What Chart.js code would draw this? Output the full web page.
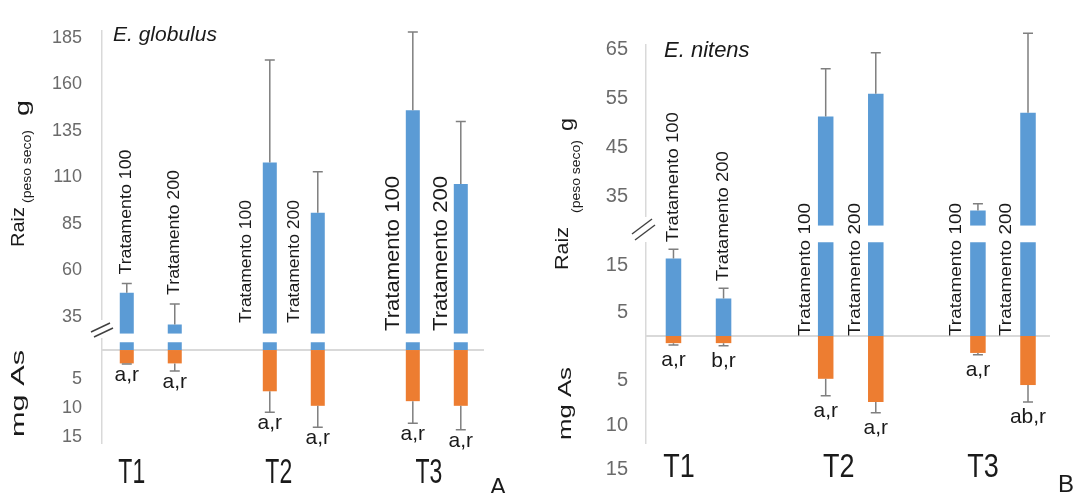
<!DOCTYPE html>
<html>
<head>
<meta charset="utf-8">
<script src="https://cdn.jsdelivr.net/npm/chart.js@4.4.1/dist/chart.umd.min.js"></script>
<style>
  html, body { margin: 0; padding: 0; background: #fff; }
  #wrap { position: relative; width: 1075px; height: 493px; overflow: hidden; }
  .panel { position: absolute; top: 0; height: 493px; }
  #panelA { left: 0; width: 537px; }
  #panelB { left: 537px; width: 538px; }
</style>
</head>
<body>
<div id="wrap">
  <div class="panel" id="panelA"><canvas id="chartA"></canvas></div>
  <div class="panel" id="panelB"><canvas id="chartB"></canvas></div>
</div>
<script>
// categories
const groups = ['T1', 'T2', 'T3'];
const treatments = ['Tratamento 100', 'Tratamento 200'];

// A - E. globulus : root dry weight (g) and As (mg)
const raiz100A = [48, 118, 146];
const raizErr100A = [5, 55, 42];
const raiz200A = [31, 91, 106.5];
const raizErr200A = [11, 22, 33.5];
const as100A = [2.3, 7.1, 8.8];
const asErr100A = [0.1, 3.6, 3.8];
const as200A = [2.3, 9.6, 9.6];
const asErr200A = [1.3, 3.7, 4.1];
const letters100A = ['a,r', 'a,r', 'a,r'];
const letters200A = ['a,r', 'a,r', 'a,r'];
const raizTicksA = [35, 60, 85, 110, 135, 160, 185];
const asTicksA = [5, 10, 15];

// B - E. nitens
const raiz100B = [16.5, 51.3, 32];
const raizErr100B = [2, 9.8, 1.4];
const raiz200B = [8, 56, 52.1];
const raizErr200B = [2.2, 8.4, 16.3];
const as100B = [0.8, 4.8, 1.9];
const asErr100B = [0.2, 1.9, 0.2];
const as200B = [0.8, 7.4, 5.5];
const asErr200B = [0.3, 1.2, 1.9];
const letters100B = ['a,r', 'a,r', 'a,r'];
const letters200B = ['b,r', 'a,r', 'ab,r'];
const raizTicksB = [35, 45, 55, 65];
const lowTicksB = [5, 15];
const asTicksB = [5, 10, 15];

const BLUE = '#5b9bd5';
const ORANGE = '#ed7d31';
const AXIS = '#d9d9d9';
const WHISKER = '#7f7f7f';
const INK = '#1a1a1a';
const TICK = '#6b6b6b';
const FONT = 'Arial, "Liberation Sans", sans-serif';

function fontStr(size, style) {
  return (style ? style + ' ' : '') + size + 'px ' + FONT;
}

// vertical text reading bottom -> top, stretched to a given length
function vText(ctx, text, size, x, yBottom, len, baseline) {
  ctx.save();
  ctx.font = fontStr(size);
  const w = ctx.measureText(text).width;
  ctx.translate(x, yBottom);
  ctx.rotate(-Math.PI / 2);
  ctx.scale(len / w, 1);
  ctx.fillStyle = INK;
  ctx.textAlign = 'left';
  ctx.textBaseline = baseline;
  ctx.fillText(text, 0, 0);
  ctx.restore();
}

function whisker(ctx, x, from, to) {
  ctx.save();
  ctx.strokeStyle = WHISKER;
  ctx.lineWidth = 1.5;
  ctx.beginPath();
  ctx.moveTo(x, from);
  ctx.lineTo(x, to);
  ctx.moveTo(x - 5, to);
  ctx.lineTo(x + 5, to);
  ctx.stroke();
  ctx.restore();
}

function decoPlugin(p) {
  return {
    id: 'deco',
    beforeDatasetsDraw(chart) {
      const {ctx, chartArea: a, scales} = chart;
      const y0 = scales.yMg.getPixelForValue(0);
      ctx.save();
      ctx.strokeStyle = AXIS;
      ctx.lineWidth = 2;
      ctx.beginPath();
      ctx.moveTo(a.left, y0);
      ctx.lineTo(a.right, y0);
      ctx.stroke();
      ctx.restore();
    },
    afterDatasetsDraw(chart) {
      const {ctx, scales} = chart;
      const series = [
        {raiz: p.raiz100, raizErr: p.raizErr100, as: p.as100, asErr: p.asErr100, letters: p.letters100, meta: 2, name: treatments[0]},
        {raiz: p.raiz200, raizErr: p.raizErr200, as: p.as200, asErr: p.asErr200, letters: p.letters200, meta: 5, name: treatments[1]}
      ];
      series.forEach(s => {
        const bars = chart.getDatasetMeta(s.meta).data;
        groups.forEach((g, i) => {
          const bar = bars[i];
          const cx = bar.x;
          const half = bar.width / 2;
          const rScale = s.raiz[i] > p.highMin ? scales.yHigh : scales.yLow;
          const rTop = rScale.getPixelForValue(s.raiz[i]);
          const rErr = rScale.getPixelForValue(s.raiz[i] + s.raizErr[i]);
          const mBot = scales.yMg.getPixelForValue(s.as[i]);
          const mErr = scales.yMg.getPixelForValue(s.as[i] + s.asErr[i]);
          whisker(ctx, cx, rTop, rErr);
          whisker(ctx, cx, mBot, mErr);

          ctx.save();
          ctx.fillStyle = INK;
          ctx.font = fontStr(p.letterFont);
          ctx.textAlign = 'center';
          ctx.textBaseline = 'alphabetic';
          ctx.fillText(s.letters[i], cx, mErr + p.letterGap);
          ctx.restore();

          const lab = p.labels;
          let lx, ly;
          if (lab.mode[i] === 'above') {
            lx = cx;
            ly = rErr - lab.gap;
          } else {
            lx = cx - half - lab.offset[i];
            ly = lab.bottom[i];
          }
          vText(ctx, s.name, lab.font[i], lx, ly, lab.length[i], 'middle');
        });
      });
    },
    afterDraw(chart) {
      const {ctx, scales} = chart;
      // axis break
      const b = p.brk;
      ctx.save();
      ctx.fillStyle = '#fff';
      ctx.fillRect(b.gapX - 2, b.gapTop, 4, b.gapBottom - b.gapTop);
      ctx.strokeStyle = '#404040';
      ctx.lineWidth = 1.4;
      b.lines.forEach(l => {
        ctx.beginPath();
        ctx.moveTo(l[0], l[1]);
        ctx.lineTo(l[2], l[3]);
        ctx.stroke();
      });
      ctx.restore();

      // axis titles
      p.titles.forEach(t => vText(ctx, t.text, t.size, t.x, t.y0, t.y0 - t.y1, 'alphabetic'));

      // group labels
      groups.forEach((g, i) => {
        const x = scales.x.getPixelForValue(i + 1) + p.groupShift[i];
        ctx.save();
        ctx.font = fontStr(p.groupFont);
        ctx.fillStyle = INK;
        ctx.textAlign = 'center';
        ctx.textBaseline = 'alphabetic';
        ctx.translate(x, p.groupY);
        ctx.scale(1, p.groupStretch);
        ctx.fillText(g, 0, 0.716 * p.groupFont / 2);
        ctx.restore();
      });

      ctx.save();
      ctx.fillStyle = INK;
      ctx.font = fontStr(p.speciesFont, 'italic');
      ctx.textAlign = 'left';
      ctx.textBaseline = 'alphabetic';
      ctx.fillText(p.species, p.speciesX, p.speciesY);
      ctx.font = fontStr(24);
      ctx.fillText(p.panelLabel, p.panelX, p.panelY);
      ctx.restore();
    }
  };
}

function buildChart(canvasId, p) {
  const datasets = [];
  [[p.raiz100, p.as100, 's100'], [p.raiz200, p.as200, 's200']].forEach(([raiz, as, stack]) => {
    datasets.push({
      stack, yAxisID: 'yHigh', backgroundColor: BLUE,
      data: raiz.map((v, i) => ({x: i + 1, y: v > p.highMin ? [p.highMin, v] : null}))
    });
    datasets.push({
      stack, yAxisID: 'yLow', backgroundColor: BLUE,
      data: raiz.map((v, i) => ({x: i + 1, y: [0, Math.min(v, p.lowCap)]}))
    });
    datasets.push({
      stack, yAxisID: 'yMg', backgroundColor: ORANGE,
      data: as.map((v, i) => ({x: i + 1, y: v}))
    });
  });

  const yTicks = list => ({
    display: !!list,
    color: TICK,
    font: {size: p.tickFont, family: FONT},
    padding: p.tickPad,
    autoSkip: false
  });
  const setTicks = list => (list ? s => { s.ticks = list.map(v => ({value: v})); } : undefined);
  const fitW = s => { s.width = 50; };

  return new Chart(document.getElementById(canvasId), {
    type: 'bar',
    data: {datasets},
    options: {
      responsive: true,
      maintainAspectRatio: false,
      animation: false,
      layout: {padding: p.padding},
      categoryPercentage: p.catPct,
      barPercentage: p.barPct,
      plugins: {legend: {display: false}, tooltip: {enabled: false}},
      scales: {
        x: {
          type: 'linear', min: p.xMin, max: p.xMax, stacked: true, offset: false,
          afterBuildTicks: s => { s.ticks = groups.map((g, i) => ({value: i + 1})); },
          afterFit: s => { s.height = 50; },
          ticks: {display: false},
          grid: {display: false, drawTicks: false, offset: false},
          border: {display: false}
        },
        yHigh: {
          type: 'linear', position: 'left', stack: 'v', stackWeight: p.weights[0], weight: 3,
          min: p.highMin, max: p.highMax, stacked: false,
          afterBuildTicks: setTicks(p.highTicks), afterFit: fitW,
          ticks: yTicks(p.highTicks),
          grid: {display: false, drawTicks: false},
          border: {color: AXIS, width: 1.5}
        },
        yLow: {
          type: 'linear', position: 'left', stack: 'v', stackWeight: p.weights[1], weight: 2,
          min: 0, max: p.lowMax, stacked: false,
          afterBuildTicks: setTicks(p.lowTicks), afterFit: fitW,
          ticks: yTicks(p.lowTicks),
          grid: {display: false, drawTicks: false},
          border: {color: AXIS, width: 1.5}
        },
        yMg: {
          type: 'linear', position: 'left', stack: 'v', stackWeight: p.weights[2], weight: 1,
          min: 0, max: p.mgMax, reverse: true, stacked: false,
          afterBuildTicks: setTicks(p.mgTicks), afterFit: fitW,
          ticks: yTicks(p.mgTicks),
          grid: {display: false, drawTicks: false},
          border: {color: AXIS, width: 1.5}
        }
      }
    },
    plugins: [decoPlugin(p)]
  });
}

buildChart('chartA', {
  raiz100: raiz100A, raizErr100: raizErr100A, raiz200: raiz200A, raizErr200: raizErr200A,
  as100: as100A, asErr100: asErr100A, as200: as200A, asErr200: asErr200A,
  letters100: letters100A, letters200: letters200A,
  highMin: 26, highMax: 188.7, lowMax: 26, lowCap: 12.6, mgMax: 16,
  highTicks: raizTicksA, lowTicks: null, mgTicks: asTicksA,
  weights: [308, 16.5, 94.5],
  xMin: 0.659, xMax: 3.33, catPct: 0.671, barPct: 0.292,
  padding: {left: 52, right: 53, top: 24, bottom: 0},
  tickFont: 18, tickPad: 20,
  letterFont: 21, letterGap: 17,
  labels: {mode: ['above', 'left', 'left'], gap: 9, offset: [0, 16, 12.5], bottom: [0, 323, 331],
           font: [16, 16, 20], length: [125, 123, 155]},
  brk: {gapX: 102, gapTop: 320, gapBottom: 338, lines: [[91, 332, 110, 323], [94, 337, 113, 328]]},
  titles: [
    {text: 'Raiz', size: 19, x: 24, y0: 247, y1: 207},
    {text: '(peso seco)', size: 12, x: 31, y0: 203, y1: 130},
    {text: 'g', size: 21, x: 29, y0: 116, y1: 100},
    {text: 'mg As', size: 19, x: 24, y0: 437, y1: 350}
  ],
  groupShift: [-19, -15, -8], groupY: 470.5, groupFont: 23, groupStretch: 1.5,
  species: 'E. globulus', speciesX: 113, speciesY: 41, speciesFont: 21,
  panelLabel: 'A', panelX: 490, panelY: 495
});

buildChart('chartB', {
  raiz100: raiz100B, raizErr100: raizErr100B, raiz200: raiz200B, raizErr200: raizErr200B,
  as100: as100B, asErr100: asErr100B, as200: as200B, asErr200: asErr200B,
  letters100: letters100B, letters200: letters200B,
  highMin: 28.9, highMax: 66, lowMax: 23.5, lowCap: 20, mgMax: 12,
  highTicks: raizTicksB, lowTicks: lowTicksB, mgTicks: asTicksB,
  weights: [180.7, 110.3, 107],
  xMin: 0.655, xMax: 3.309, catPct: 0.658, barPct: 0.31,
  padding: {left: 59, right: 25, top: 45, bottom: 0},
  tickFont: 20, tickPad: 18,
  letterFont: 21, letterGap: 21,
  labels: {mode: ['above', 'left', 'left'], gap: 7, offset: [0, 12, 14], bottom: [0, 336, 336],
           font: [16, 16, 16], length: [130, 133, 133]},
  brk: {gapX: 109, gapTop: 217, gapBottom: 242, lines: [[95, 234, 115, 219], [98, 240, 118, 225]]},
  titles: [
    {text: 'Raiz', size: 19, x: 31, y0: 270, y1: 227},
    {text: '(peso seco)', size: 12, x: 42.5, y0: 213, y1: 140},
    {text: 'g', size: 21, x: 36, y0: 131, y1: 118},
    {text: 'mg As', size: 19, x: 34, y0: 440, y1: 367}
  ],
  groupShift: [-19.5, -12, -20], groupY: 465, groupFont: 27, groupStretch: 1.24,
  species: 'E. nitens', speciesX: 127, speciesY: 57, speciesFont: 22,
  panelLabel: 'B', panelX: 521, panelY: 492
});
</script>
</body>
</html>
